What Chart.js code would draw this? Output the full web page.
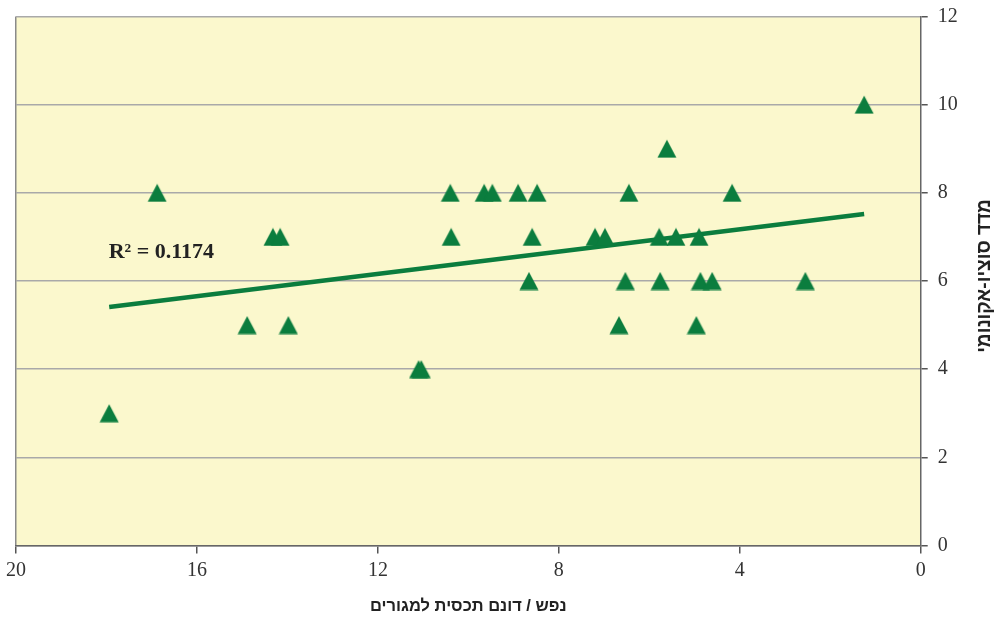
<!DOCTYPE html>
<html lang="he">
<head>
<meta charset="utf-8">
<title>מדד סוציו-אקונומי</title>
<script src="https://cdn.jsdelivr.net/npm/chart.js@4"></script>
<style>
  html, body { margin: 0; padding: 0; background: #fff; }
  #wrap { width: 1002px; height: 621px; }
</style>
</head>
<body>
<div id="wrap"><canvas id="scatterCanvas" width="1002" height="621"></canvas></div>
<script>
// נפש / דונם תכסית למגורים
let xValues = [17.94, 16.88, 14.89, 14.32, 14.16, 13.98, 11.10, 11.04, 10.40, 10.38,
               9.65, 9.47, 8.90, 8.48, 8.59, 8.66, 7.20, 6.98, 6.67, 6.53,
               6.45, 5.61, 5.78, 5.76, 5.41, 4.96, 4.90, 4.87, 4.61, 4.17,
               2.55, 1.25];
// מדד סוציו-אקונומי
let yValues = [3, 8, 5, 7, 7, 5, 4, 4, 8, 7,
               8, 8, 8, 8, 7, 6, 7, 7, 5, 6,
               8, 9, 7, 6, 7, 5, 7, 6, 6, 8,
               6, 10];
// trend line ends
let trendX = [17.94, 1.25];
let trendY = [5.41, 7.52];
let r2Text = "R² = 0.1174";

let green = "#0b7d3e";
let plotBg = "#fbf8cd";

let points = [];
for (let i = 0; i < xValues.length; i++) {
    points.push({x: xValues[i], y: yValues[i]});
}
let trend = [];
for (let i = 0; i < trendX.length; i++) {
    trend.push({x: trendX[i], y: trendY[i]});
}

// triangle marker
let tri = document.createElement("canvas");
tri.width = 20;
tri.height = 19;
let tc = tri.getContext("2d");
tc.fillStyle = green;
tc.beginPath();
tc.moveTo(10, 0.5);
tc.lineTo(19.5, 18.5);
tc.lineTo(0.5, 18.5);
tc.closePath();
tc.fill();

let extras = {
    id: "extras",
    beforeDraw: function(chart) {
        let a = chart.chartArea;
        let ctx = chart.ctx;
        ctx.save();
        ctx.fillStyle = plotBg;
        ctx.fillRect(a.left, a.top, a.right - a.left, a.bottom - a.top);
        ctx.restore();
    },
    afterDraw: function(chart) {
        let ctx = chart.ctx;
        let a = chart.chartArea;
        ctx.save();
        // R2 label
        ctx.fillStyle = "#222";
        ctx.font = "bold 22px 'Liberation Serif'";
        ctx.textBaseline = "middle";
        ctx.textAlign = "left";
        ctx.fillText(r2Text, chart.scales.x.getPixelForValue(17.95), chart.scales.y.getPixelForValue(6.65));
        // y title, reads from top
        ctx.translate(985, (a.top + a.bottom) / 2 - 5);
        ctx.rotate(-Math.PI / 2);
        ctx.font = "bold 19px 'Liberation Sans'";
        ctx.textAlign = "center";
        ctx.fillText("מדד סוציו-אקונומי", 0, 0);
        ctx.restore();
    }
};

let scatterCanvas = document.getElementById("scatterCanvas");

let scatterChart = new Chart(scatterCanvas, {
    type: "scatter",
    data: {
        datasets: [{
            data: points,
            pointStyle: tri,
            pointRadius: 10,
            pointHoverRadius: 10,
            backgroundColor: green,
            borderColor: green
        }, {
            data: trend,
            showLine: true,
            pointRadius: 0,
            borderColor: green,
            borderWidth: 4.5,
            fill: false
        }]
    },
    options: {
        responsive: false,
        animation: false,
        layout: { padding: { top: 16.5, left: 16, right: 0, bottom: 0 } },
        scales: {
            x: {
                type: "linear",
                reverse: true,
                min: 0,
                max: 20,
                afterFit: function(scale) {
                    scale.height = 75.5;
                    scale.paddingLeft = 0;
                    scale.paddingRight = 0;
                },
                ticks: {
                    stepSize: 4,
                    padding: 5,
                    color: "#333",
                    font: { family: "'Liberation Serif'", size: 20 }
                },
                grid: {
                    color: function(c) { return c.tick && c.tick.value === 20 ? "#8a8a8a" : "transparent"; },
                    lineWidth: 1.5,
                    tickColor: "#555",
                    tickLength: 8
                },
                border: { color: "#666", width: 1.5 },
                title: {
                    display: true,
                    text: "נפש / דונם תכסית למגורים",
                    color: "#222",
                    font: { family: "'Liberation Sans'", size: 16.5, weight: "bold" },
                    padding: { top: 0, bottom: 5 }
                }
            },
            y: {
                position: "right",
                min: 0,
                max: 12,
                afterFit: function(scale) {
                    scale.width = 81.3;
                    scale.paddingTop = 0;
                    scale.paddingBottom = 0;
                },
                ticks: {
                    stepSize: 2,
                    padding: 10,
                    color: "#333",
                    font: { family: "'Liberation Serif'", size: 20 }
                },
                grid: {
                    color: "#a9a9a9",
                    lineWidth: 1.5,
                    tickColor: "#555",
                    tickLength: 7
                },
                border: { color: "#666", width: 1.5 }
            }
        },
        plugins: { legend: { display: false }, tooltip: { enabled: false } }
    },
    plugins: [extras]
});
</script>
</body>
</html>
